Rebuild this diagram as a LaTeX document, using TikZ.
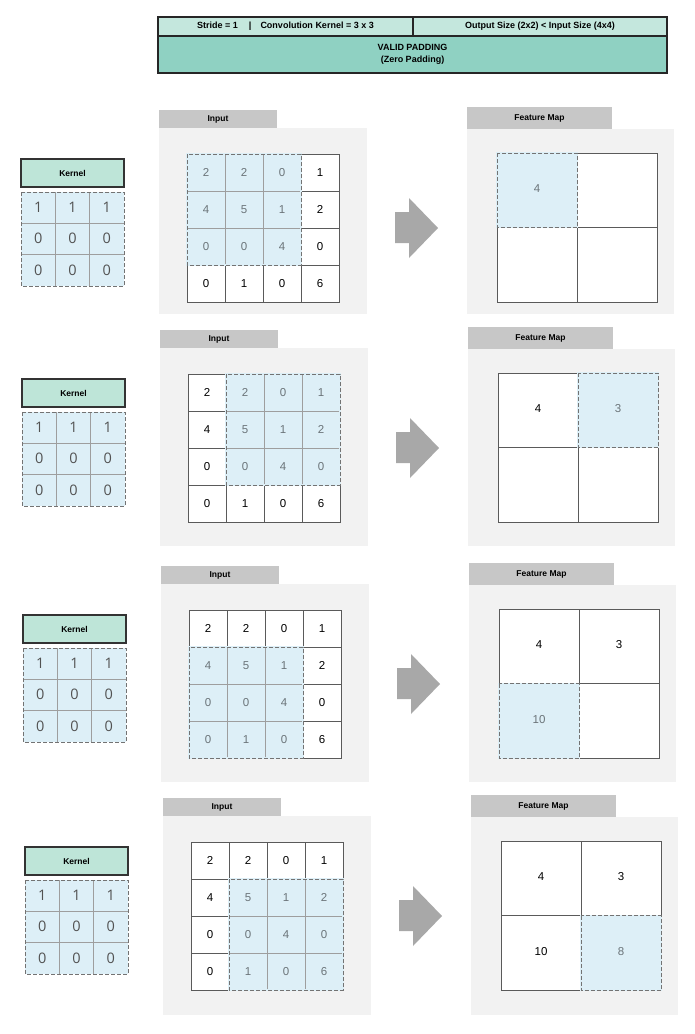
\documentclass[tikz,border=0pt]{standalone}
\usepackage{fontspec}
\setmainfont{Liberation Sans}
\newfontfamily\numfont{Open Sans}
\definecolor{hdrA}{HTML}{C4E7DD}
\definecolor{hdrB}{HTML}{8FD1C2}
\definecolor{kteal}{HTML}{BEE5D8}
\definecolor{hlblue}{HTML}{DDEFF7}
\definecolor{panelgray}{HTML}{F2F2F2}
\definecolor{labgray}{HTML}{C7C7C7}
\definecolor{arrowgray}{HTML}{A8A8A8}
\definecolor{gridline}{HTML}{5A5A5A}
\definecolor{hltext}{HTML}{6B7479}
\tikzset{
  hdrbox/.style={draw=black!85,line width=1.3pt},
  hdrtext/.style={font=\fontsize{9}{10}\selectfont\bfseries,align=center,inner sep=0pt},
  labtext/.style={font=\fontsize{8.5}{10}\selectfont\bfseries,inner sep=0pt},
  klabel/.style={draw=black!80,line width=1.4pt,fill=kteal},
  dashbox/.style={draw=black!55,line width=0.9pt,dash pattern=on 4pt off 2pt},
  coverbox/.style={draw=hlblue,line width=1.3pt},
  gridl/.style={draw=gridline,line width=0.7pt},
  innerl/.style={draw=black!38,line width=0.6pt},
  numtext/.style={font=\fontsize{11.5}{12}\selectfont,inner sep=0pt},
  knumtext/.style={font=\numfont\fontsize{14.5}{15}\selectfont,text=black!68,inner sep=0pt},
  arrowshape/.style={fill=arrowgray}
}
% #1 name, #2 dx, #3 dy, #4 hc, #5 hr, #6 panel height, #7 feature index
\newcommand\convrow[7]{%
\begin{scope}[shift={(#2,#3)}]
  % kernel
  \node[klabel,minimum width=103pt,minimum height=28pt,inner sep=0pt] (k#1) at (72.5,173) {};
  \node[labtext] (kt#1) at (k#1.center) {Kernel};
  \fill[hlblue] (21,192) rectangle (124,286);
  \draw[innerl] (55.33,192) -- (55.33,286) (89.67,192) -- (89.67,286)
                (21,223.33) -- (124,223.33) (21,254.67) -- (124,254.67);
  \draw[dashbox] (21,192) rectangle (124,286);
  \foreach \v [count=\i from 0] in {1,1,1,0,0,0,0,0,0}{
    \pgfmathtruncatemacro\cc{mod(\i,3)}
    \pgfmathtruncatemacro\rr{div(\i,3)}
    \node[knumtext] (kn#1-\i) at ({21+34.33*\cc+17.17},{192+31.33*\rr+15.2}) {\v};
  }
  % input
  \fill[panelgray] (159,128) rectangle (367,128+#6);
  \fill[labgray] (159,110) rectangle (277,128);
  \node[labtext] (il#1) at (218,119) {Input};
  \fill[white] (187,154) rectangle (339,302);
  \fill[hlblue] ({187+38*#4},{154+37*#5}) rectangle ({187+38*(#4+3)},{154+37*(#5+3)});
  \foreach \k in {1,2,3}{
    \draw[gridl] ({187+38*\k},154) -- ({187+38*\k},302);
    \draw[gridl] (187,{154+37*\k}) -- (339,{154+37*\k});
  }
  \draw[gridl] (187,154) rectangle (339,302);
  % lighter inner lines inside the window
  \foreach \k in {1,2}{
    \draw[coverbox,line width=0.9pt] ({187+38*(#4+\k)},{154+37*#5}) -- ({187+38*(#4+\k)},{154+37*(#5+3)});
    \draw[coverbox,line width=0.9pt] ({187+38*#4},{154+37*(#5+\k)}) -- ({187+38*(#4+3)},{154+37*(#5+\k)});
    \draw[innerl] ({187+38*(#4+\k)},{154+37*#5}) -- ({187+38*(#4+\k)},{154+37*(#5+3)});
    \draw[innerl] ({187+38*#4},{154+37*(#5+\k)}) -- ({187+38*(#4+3)},{154+37*(#5+\k)});
  }
  \draw[coverbox] ({187+38*#4},{154+37*#5}) rectangle ({187+38*(#4+3)},{154+37*(#5+3)});
  \draw[dashbox] ({187+38*#4},{154+37*#5}) rectangle ({187+38*(#4+3)},{154+37*(#5+3)});
  \foreach \v [count=\i from 0] in {2,2,0,1,4,5,1,2,0,0,4,0,0,1,0,6}{
    \pgfmathtruncatemacro\cc{mod(\i,4)}
    \pgfmathtruncatemacro\rr{div(\i,4)}
    \pgfmathtruncatemacro\inside{(\cc>=#4)&&(\cc<=#4+2)&&(\rr>=#5)&&(\rr<=#5+2)}
    \ifnum\inside=1
      \node[numtext,text=hltext] (in#1-\i) at ({187+38*\cc+19},{154+37*\rr+18.5}) {\v};
    \else
      \node[numtext,text=black] (in#1-\i) at ({187+38*\cc+19},{154+37*\rr+18.5}) {\v};
    \fi
  }
  % arrow
  \fill[arrowshape] (395,212) -- (409,212) -- (409,198) -- (438,228) -- (409,258) -- (409,243) -- (395,243) -- cycle;
  % feature map
  \fill[panelgray] (467,129) rectangle (674,128+#6);
  \fill[labgray] (467,107) rectangle (612,129);
  \node[labtext] (fl#1) at (539.5,118) {Feature Map};
  \fill[white] (497,153) rectangle (657,302);
  \foreach \v [count=\i from 1] in {4,3,10,8}{
    \pgfmathtruncatemacro\cc{mod(\i-1,2)}
    \pgfmathtruncatemacro\rr{div(\i-1,2)}
    \ifnum\i=#7
      \fill[hlblue] ({497+80*\cc},{153+74.5*\rr}) rectangle ({497+80*(\cc+1)},{153+74.5*(\rr+1)});
    \fi
  }
  \draw[gridl] (577,153) -- (577,302) (497,227.5) -- (657,227.5);
  \draw[gridl] (497,153) rectangle (657,302);
  \foreach \v [count=\i from 1] in {4,3,10,8}{
    \pgfmathtruncatemacro\cc{mod(\i-1,2)}
    \pgfmathtruncatemacro\rr{div(\i-1,2)}
    \ifnum\i=#7
      \draw[coverbox] ({497+80*\cc},{153+74.5*\rr}) rectangle ({497+80*(\cc+1)},{153+74.5*(\rr+1)});
      \draw[dashbox] ({497+80*\cc},{153+74.5*\rr}) rectangle ({497+80*(\cc+1)},{153+74.5*(\rr+1)});
      \node[numtext,text=hltext] (fm#1-\i) at ({537+80*\cc},{189+74.5*\rr}) {\v};
    \else\ifnum\i<#7
      \node[numtext,text=black] (fm#1-\i) at ({537+80*\cc},{189+74.5*\rr}) {\v};
    \fi\fi
  }
\end{scope}}
\begin{document}
\begin{tikzpicture}[x=1pt,y=-1pt]
\useasboundingbox[fill=white] (0,0) rectangle (694,1034);
% header
\fill[hdrA] (158,17) rectangle (667,36);
\fill[hdrB] (158,36) rectangle (667,73);
\draw[hdrbox] (158,17) rectangle (667,73);
\draw[hdrbox] (158,36) -- (667,36);
\draw[hdrbox] (413,17) -- (413,36);
\node[hdrtext] (h1) at (285.5,26.5) {Stride = 1\hspace{11pt}|\hspace{9pt}Convolution Kernel = 3 x 3};
\node[hdrtext] (h2) at (540,26.5) {Output Size (2x2) < Input Size (4x4)};
\node[hdrtext] (h3) at (412.5,54.5) {VALID PADDING\\[1.5pt](Zero Padding)};
\convrow{a}{0}{0}{0}{0}{186}{1}
\convrow{b}{1}{220}{1}{0}{198}{2}
\convrow{c}{2}{456}{0}{1}{198}{3}
\convrow{d}{4}{688}{1}{1}{199}{4}
\end{tikzpicture}
\end{document}
